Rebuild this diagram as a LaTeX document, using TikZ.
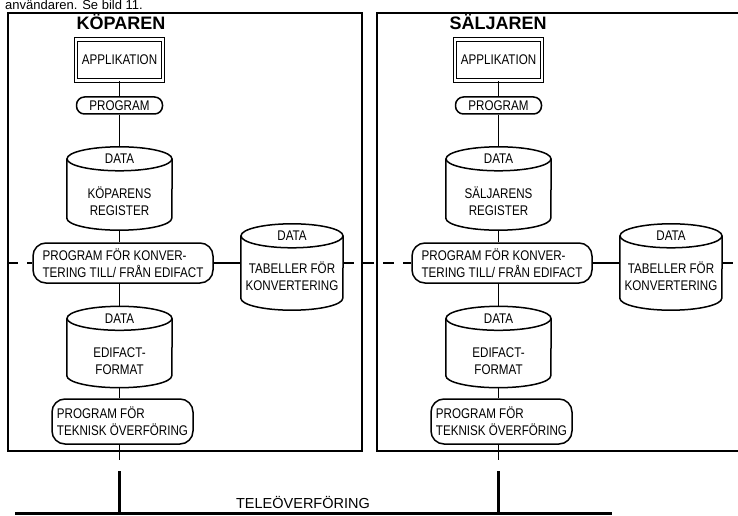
\documentclass[tikz,border=0pt]{standalone}
\usepackage{fontspec}
\setmainfont{Liberation Sans}
\newfontfamily\plotfont[FakeStretch=0.83]{Liberation Sans}
\usetikzlibrary{calc}

% drum outline round a plain node: node, x radius, y radius
\newcommand{\drum}[3]{%
  \draw[dbline] ([yshift=-#3]#1.north) ellipse [x radius=#2, y radius=#3];
  \draw[dbline] ([yshift=-#3]#1.north west) -- ([yshift=#3]#1.south west)
    arc[start angle=180, end angle=360, x radius=#2, y radius=#3]
    -- ([yshift=-#3]#1.north east);
}

\begin{document}
\begin{tikzpicture}[x=1pt,y=-1pt,
  frame/.style={draw,line width=1.1pt,inner sep=0pt},
  titletext/.style={font=\fontsize{18}{18}\selectfont\bfseries,inner sep=0pt},
  lbl/.style={font=\plotfont\fontsize{14}{17}\selectfont,inner sep=0pt,align=center},
  appbox/.style={lbl,draw,double,double distance=2.2pt,line width=1.1pt,minimum width=87pt,minimum height=41pt},
  progbox/.style={lbl,draw,line width=1.5pt,rounded corners=8pt,minimum width=86pt,minimum height=17pt},
  convbox/.style={lbl,draw,line width=1.5pt,rounded corners=13pt,minimum width=180pt,minimum height=40pt,align=left},
  techbox/.style={lbl,draw,line width=1.5pt,rounded corners=13pt,minimum width=141pt,minimum height=45pt,align=left},
  db/.style={inner sep=0pt},
  dbline/.style={line width=1.5pt},
  wire/.style={line width=1.2pt},
  link/.style={line width=1.2pt,dash pattern=on 11pt off 9pt},
  bus/.style={line width=2.8pt}]
\useasboundingbox (0,0) rectangle (738,516);

\node[anchor=base west,font=\fontsize{13}{13}\selectfont,inner sep=0pt] (intro) at (5,10) {användaren. Se bild 11.};

% koparen
\node[frame,minimum width=354pt,minimum height=438pt] (frameA) at (185,232) {};
\node[titletext] (titleA) at (121,22) {KÖPAREN};
\node[appbox] (appA) at (119.5,60) {APPLIKATION};
\node[progbox] (progA) at (119.5,105.5) {PROGRAM};
\node[db,minimum width=105pt,minimum height=83pt] (regA) at (119.5,188.5) {};
\drum{regA}{52.5pt}{12pt}
\node[lbl] (regAtop) at ([yshift=-12pt]regA.north) {DATA};
\node[lbl] (regAtxt) at (119.5,201.5) {KÖPARENS\\REGISTER};
\node[convbox] (convA) at (123,263) {PROGRAM FÖR KONVER-\\TERING TILL/ FRÅN EDIFACT};
\node[db,minimum width=102pt,minimum height=86pt] (tabA) at (292,267) {};
\drum{tabA}{51pt}{12pt}
\node[lbl] (tabAtop) at ([yshift=-12pt]tabA.north) {DATA};
\node[lbl] (tabAtxt) at (292,276.5) {TABELLER FÖR\\KONVERTERING};
\node[db,minimum width=105pt,minimum height=81pt] (edA) at (119.5,347) {};
\drum{edA}{52.5pt}{12pt}
\node[lbl] (edAtop) at ([yshift=-12pt]edA.north) {DATA};
\node[lbl] (edAtxt) at (119.5,361.5) {EDIFACT-\\FORMAT};
\node[techbox] (techA) at (122.5,421.5) {PROGRAM FÖR\\TEKNISK ÖVERFÖRING};
\coordinate (stubA) at (119.5,460);
\coordinate (dropA) at (119.5,471);

% saljaren
\node[frame,minimum width=363pt,minimum height=438pt] (frameB) at (558.5,232) {};
\node[titletext] (titleB) at (498,22) {SÄLJAREN};
\node[appbox] (appB) at (498.5,60) {APPLIKATION};
\node[progbox] (progB) at (498.5,105.5) {PROGRAM};
\node[db,minimum width=105pt,minimum height=83pt] (regB) at (498.5,188.5) {};
\drum{regB}{52.5pt}{12pt}
\node[lbl] (regBtop) at ([yshift=-12pt]regB.north) {DATA};
\node[lbl] (regBtxt) at (498.5,201.5) {SÄLJARENS\\REGISTER};
\node[convbox] (convB) at (502,263) {PROGRAM FÖR KONVER-\\TERING TILL/ FRÅN EDIFACT};
\node[db,minimum width=102pt,minimum height=86pt] (tabB) at (671,267) {};
\drum{tabB}{51pt}{12pt}
\node[lbl] (tabBtop) at ([yshift=-12pt]tabB.north) {DATA};
\node[lbl] (tabBtxt) at (671,276.5) {TABELLER FÖR\\KONVERTERING};
\node[db,minimum width=105pt,minimum height=81pt] (edB) at (498.5,347) {};
\drum{edB}{52.5pt}{12pt}
\node[lbl] (edBtop) at ([yshift=-12pt]edB.north) {DATA};
\node[lbl] (edBtxt) at (498.5,361.5) {EDIFACT-\\FORMAT};
\node[techbox] (techB) at (501.5,421.5) {PROGRAM FÖR\\TEKNISK ÖVERFÖRING};
\coordinate (stubB) at (498.5,460);
\coordinate (dropB) at (498.5,471);

% connections
\foreach \s in {A,B} {
  \draw[wire] (app\s) -- (prog\s);
  \draw[wire] (prog\s) -- (reg\s);
  \draw[wire] (reg\s) -- (reg\s |- conv\s.north);
  \draw[wire] (ed\s |- conv\s.south) -- (ed\s);
  \draw[wire] (ed\s) -- (ed\s |- tech\s.north);
  \draw[wire] (tech\s.south -| stub\s) -- (stub\s);
  \draw[wire] (conv\s.east) -- (conv\s.east -| tab\s.west);
}
\draw[link] (convA.west -| frameA.west) -- (convA.west);
\draw[link] (convA.east -| tabA.east) -- (convB.west);
\draw[link] (convB.east -| tabB.east) -- (convB.east -| frameB.east);

% teleoverforing
\coordinate (busW) at (15,513.5);
\coordinate (busE) at (612,513.5);
\draw[bus] (dropA) -- (dropA |- busW);
\draw[bus] (dropB) -- (dropB |- busW);
\draw[bus] (busW) -- (busE);
\node[font=\fontsize{14.5}{14.5}\selectfont,inner sep=0pt] (tele) at (303,502) {TELEÖVERFÖRING};
\end{tikzpicture}
\end{document}
